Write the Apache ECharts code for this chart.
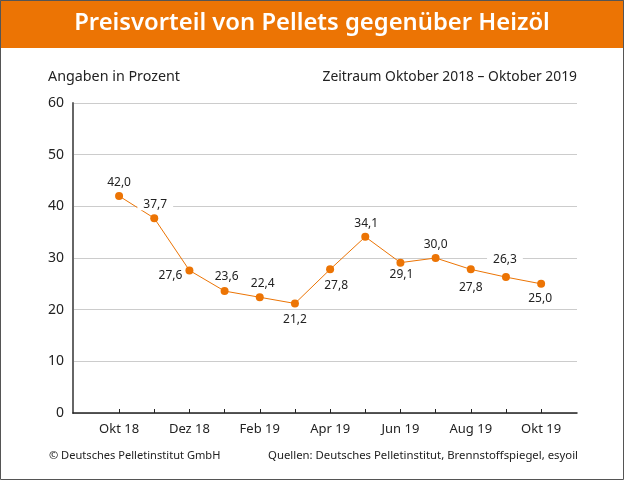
<!DOCTYPE html>
<html>
<head>
<meta charset="utf-8">
<title>Preisvorteil von Pellets gegenüber Heizöl</title>
<style>
html, body { margin: 0; padding: 0; background: #fff; }
#chart { width: 624px; height: 480px; }
</style>
<script src="https://cdn.jsdelivr.net/npm/echarts@6/dist/echarts.min.js"></script>
</head>
<body>
<div id="chart"></div>
<script>
var months = ["Okt 18", "Nov 18", "Dez 18", "Jan 19", "Feb 19", "Mrz 19", "Apr 19", "Mai 19", "Jun 19", "Jul 19", "Aug 19", "Sep 19", "Okt 19"];
var values = [42.0, 37.7, 27.6, 23.6, 22.4, 21.2, 27.8, 34.1, 29.1, 30.0, 27.8, 26.3, 25.0];
var yTicks = [0, 10, 20, 30, 40, 50, 60];
var titleText = "Preisvorteil von Pellets gegenüber Heizöl";
var unitText = "Angaben in Prozent";
var periodText = "Zeitraum Oktober 2018 – Oktober 2019";
var copyrightText = "© Deutsches Pelletinstitut GmbH";
var sourceText = "Quellen: Deutsches Pelletinstitut, Brennstoffspiegel, esyoil";

var ORANGE = "#ec7404";
var FONT = "'Noto Sans', sans-serif";

//label offset for each point
var labelOffsets = [
    [0, -13], [1, -14], [-19, 5], [2, -14], [3, -14], [0, 16],
    [6, 16], [1, -13], [1, 12], [0, -13], [0, 18], [-1, -18], [-1, 15]
];

function caption(text, x, y, align, size) {
    return {
        type: "text",
        silent: true,
        style: { text: text, x: x, y: y, align: align, verticalAlign: "middle", font: size + "px " + FONT, fill: "#222" }
    };
}

var points = values.map(function (v, i) {
    return {
        value: [i, v],
        label: {
            offset: labelOffsets[i],
            //these two sit on a gridline and blank it out
            backgroundColor: (i === 1 || i === 11) ? "#fff" : "transparent",
            padding: (i === 1 || i === 11) ? [0, 6] : 0
        }
    };
});

var monthIndexes = months.map(function (m, i) { return i; });

var option = {
    animation: false,
    backgroundColor: "#fff",
    grid: { left: 73, right: 47, top: 103, bottom: 67 },
    xAxis: {
        type: "value",
        min: -1.31,
        max: 13.02,
        splitLine: { show: false },
        axisLine: { show: true, onZero: false, lineStyle: { color: "#222", width: 1.5 } },
        axisTick: { show: true, inside: true, length: 4, lineStyle: { color: "#222", width: 1 }, customValues: monthIndexes },
        axisLabel: {
            customValues: monthIndexes.filter(function (i) { return i % 2 === 0; }),
            formatter: function (v) { return months[v]; },
            margin: 10,
            fontFamily: FONT,
            fontSize: 13,
            color: "#222"
        }
    },
    yAxis: {
        type: "value",
        min: yTicks[0],
        max: yTicks[yTicks.length - 1],
        interval: 10,
        axisLine: { show: true, onZero: false, lineStyle: { color: "#666", width: 2 } },
        axisTick: { show: false },
        splitLine: { lineStyle: { color: "#ccc", width: 1 } },
        axisLabel: { margin: 9, fontFamily: FONT, fontSize: 14, color: "#222" }
    },
    series: [{
        type: "line",
        data: points,
        symbol: "circle",
        symbolSize: 8,
        lineStyle: { color: ORANGE, width: 1 },
        itemStyle: { color: ORANGE },
        label: {
            show: true,
            position: "inside",
            fontFamily: FONT,
            fontSize: 12,
            color: "#222",
            formatter: function (p) { return p.value[1].toFixed(1).replace(".", ","); }
        }
    }],
    graphic: [
        { type: "rect", silent: true, z: -1, shape: { x: 0, y: 0, width: 624, height: 48 }, style: { fill: ORANGE } },
        { type: "rect", silent: true, shape: { x: 0.5, y: 0.5, width: 623, height: 479 }, style: { fill: "none", stroke: "#555", lineWidth: 1 } },
        {
            type: "text",
            silent: true,
            style: { text: titleText, x: 312, y: 23, align: "center", verticalAlign: "middle", font: "600 23.8px " + FONT, fill: "#fff" }
        },
        caption(unitText, 48, 77, "left", 14.3),
        caption(periodText, 577, 77, "right", 13.85),
        caption(copyrightText, 49, 456, "left", 11.1),
        caption(sourceText, 578, 456, "right", 11.35)
    ]
};

var chart = echarts.init(document.getElementById("chart"), null, { renderer: "canvas" });
chart.setOption(option);
</script>
</body>
</html>
